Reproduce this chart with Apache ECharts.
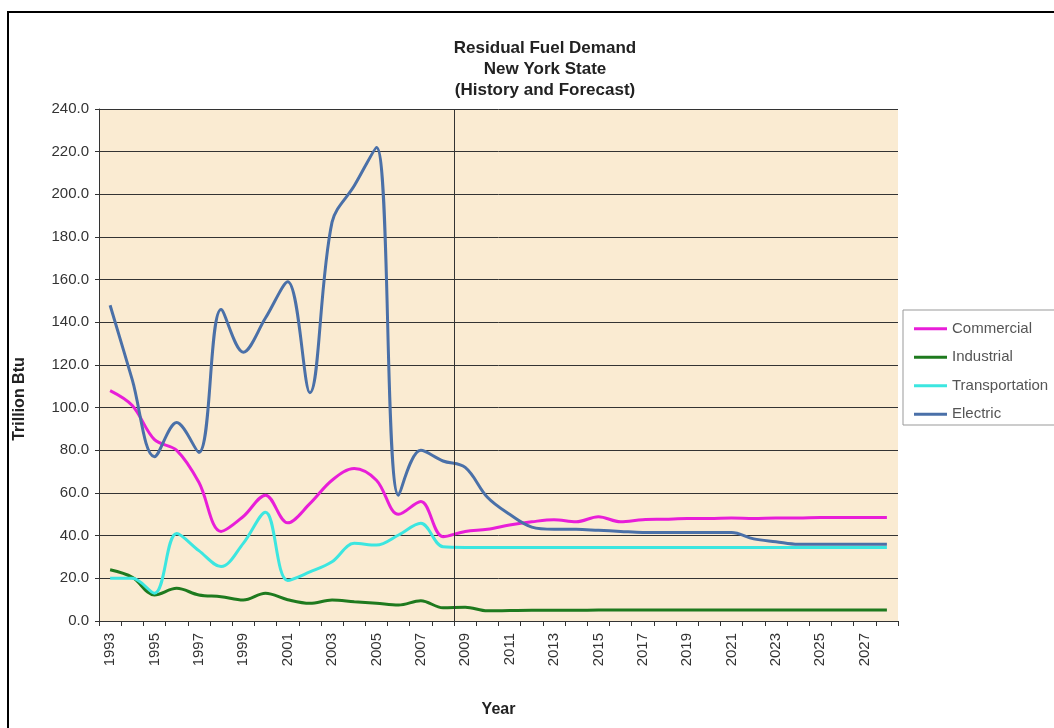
<!DOCTYPE html>
<html>
<head>
<meta charset="utf-8">
<script src="https://cdn.jsdelivr.net/npm/echarts@6/dist/echarts.min.js"></script>
<style>
html,body{margin:0;padding:0;background:#fff;}
#chart{width:1054px;height:728px;}
</style>
</head>
<body>
<div id="chart"></div>
<script>
var years = ['1993','1994','1995','1996','1997','1998','1999','2000','2001','2002','2003','2004','2005','2006','2007','2008','2009','2010','2011','2012','2013','2014','2015','2016','2017','2018','2019','2020','2021','2022','2023','2024','2025','2026','2027','2028'];
var commercial = [108,101,85,80,65,42,49,59,46,55,66,71.5,66,50,56,39.5,42,43,45,46.5,47.5,46.5,48.9,46.5,47.5,47.7,48,48,48.3,48,48.3,48.3,48.5,48.5,48.5,48.5];
var industrial = [24,20.5,12.2,15.3,12.2,11.4,9.8,13,10,8.3,9.8,9,8.3,7.5,9.5,6.2,6.5,4.8,4.9,5,5,5,5.1,5.1,5.1,5.1,5.1,5.1,5.1,5.1,5.1,5.1,5.1,5.2,5.2,5.2];
var transportation = [20,20,13,41,33,25.5,36.4,51,19,23,27.8,36.4,35.6,40.3,45.8,34.8,34.5,34.5,34.5,34.5,34.5,34.5,34.5,34.5,34.5,34.5,34.5,34.5,34.5,34.5,34.5,34.5,34.5,34.5,34.5,34.5];
var electric = [148,113,77,93,79,146,126,142,159,107,187,204,222,59,80,75,72,58,50,44,43,43,42.5,42,41.5,41.5,41.5,41.5,41.5,38.5,37.2,36,36,36,36,36];
var yTicks = [0,20,40,60,80,100,120,140,160,180,200,220,240];
var forecastStart = 16; // boundary before 2009

var chart = echarts.init(document.getElementById('chart'));
var FONT = '"Liberation Sans", Arial, sans-serif';
function mk(name, data, color) {
  return {
    name: name, type: 'line', data: data, smooth: 0.35, showSymbol: false, symbol: 'none',
    lineStyle: {color: color, width: 3}, itemStyle: {color: color}, z: 3
  };
}
chart.setOption({
  animation: false,
  backgroundColor: '#ffffff',
  title: {
    text: 'Residual Fuel Demand\nNew York State\n(History and Forecast)',
    left: 540, textAlign: 'center', top: 33,
    textStyle: {fontFamily: FONT, fontSize: 17, fontWeight: 'bold', color: '#222', lineHeight: 21}
  },
  grid: {left: 99, top: 109, width: 799, height: 512, show: true, backgroundColor: '#FAEBD2', borderWidth: 0},
  legend: {
    orient: 'vertical', left: 909, top: 315, itemGap: 11, itemWidth: 33, itemHeight: 3,
    icon: 'rect', data: ['Commercial','Industrial','Transportation','Electric'],
    textStyle: {fontFamily: FONT, fontSize: 15, color: '#555', lineHeight: 17.5}
  },
  graphic: [
    {type: 'rect', shape: {x: 8, y: 12, width: 1200, height: 900}, style: {fill: 'none', stroke: '#000', lineWidth: 2}, z: -10},
    {type: 'rect', shape: {x: 903, y: 310, width: 200, height: 115}, style: {fill: '#fff', stroke: '#999', lineWidth: 1}, z: -1},
    {type: 'text', x: 20, y: 399, rotation: Math.PI/2, style: {text: 'Trillion Btu', fontFamily: FONT, fontSize: 16, fontWeight: 'bold', fill: '#222', align: 'center', verticalAlign: 'middle'}}
  ],
  xAxis: [{
    type: 'category', data: years, boundaryGap: true,
    name: 'Year', nameLocation: 'middle', nameGap: 81,
    nameTextStyle: {fontFamily: FONT, fontSize: 16, fontWeight: 'bold', color: '#222'},
    axisLine: {lineStyle: {color: '#333', width: 1}},
    axisTick: {show: true, interval: 0, length: 5, lineStyle: {color: '#333'}},
    axisLabel: {interval: 1, rotate: 90, fontFamily: FONT, fontSize: 15, color: '#333', margin: 12},
    splitLine: {show: false}
  }, {
    type: 'value', min: 0, max: 36, show: false
  }],
  yAxis: {
    type: 'value', min: 0, max: 240, interval: 20,
    axisLine: {show: true, lineStyle: {color: '#333', width: 1}},
    axisTick: {show: true, length: 4, lineStyle: {color: '#333'}},
    axisLabel: {fontFamily: FONT, fontSize: 15, color: '#333', margin: 10,
      formatter: function (v) { return v.toFixed(1); }},
    splitLine: {show: true, lineStyle: {color: '#333', width: 1}}
  },
  series: [
    mk('Commercial', commercial, '#E81ED8'),
    mk('Industrial', industrial, '#1E7A1E'),
    mk('Transportation', transportation, '#3CE6E0'),
    mk('Electric', electric, '#4A70A8'),
    {
      name: 'divider', type: 'line', xAxisIndex: 1, data: [], silent: true,
      markLine: {silent: true, symbol: 'none', label: {show: false},
        lineStyle: {color: '#333', width: 1, type: 'solid'},
        data: [{xAxis: forecastStart}]}
    }
  ]
});
</script>
</body>
</html>
